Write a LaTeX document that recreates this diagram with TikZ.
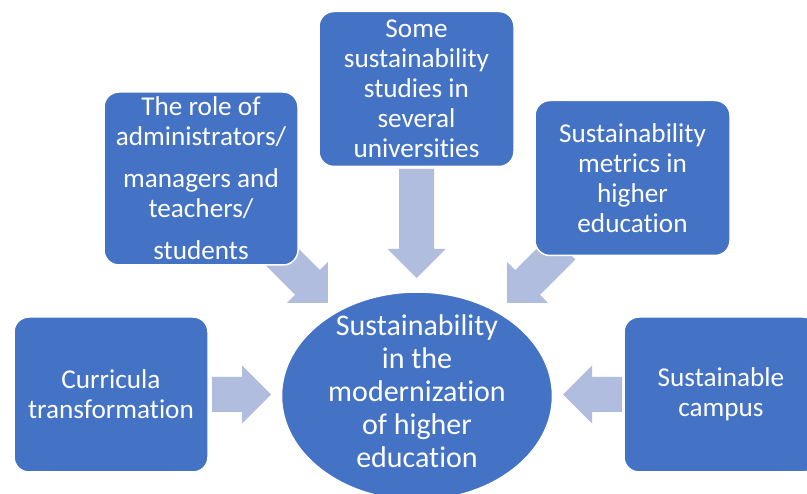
\documentclass[tikz,border=0pt]{standalone}
\usepackage{fontspec}
\setmainfont{Carlito}[Ligatures=NoCommon]
\usetikzlibrary{shapes.geometric}
\definecolor{boxblue}{RGB}{68,114,196}
\definecolor{arrowblue}{RGB}{177,189,222}
\begin{document}
\begin{tikzpicture}[x=1pt,y=-1pt,
  box/.style={draw=white, line width=1.5pt, fill=boxblue, rounded corners=15pt,
    minimum width=195pt, minimum height=155pt, text=white, align=center,
    inner sep=0pt, font=\fontsize{27.2}{30}\selectfont},
  hub/.style={ellipse, draw=white, line width=1.5pt, fill=boxblue,
    minimum width=271pt, minimum height=208pt, inner sep=0pt},
  hubtext/.style={text=white, align=center, inner sep=0pt,
    font=\fontsize{30}{33}\selectfont},
  pics/barrow/.style={code={
    \fill[arrowblue] (0,-17.5) -- (#1,-17.5) -- (#1,-29) -- ({#1+29},0)
      -- (#1,29) -- (#1,17.5) -- (0,17.5) -- cycle;}}]
\useasboundingbox (0,0) rectangle (807,494);
\clip (0,0) rectangle (807,494);
\fill[white] (0,0) rectangle (807,494);
% block arrows
\pic[rotate=-90] at (416.5,169) {barrow=80};
\pic at (212,394.5) {barrow=30};
\pic[rotate=180] at (622,394.5) {barrow=30};
\pic[rotate=-45] at (272.1,247.1) {barrow=50};
\pic[rotate=-135] at (562.9,247.1) {barrow=50};
% boxes
\node[box] (tb) at (416.5,89) {Some\\sustainability\\studies in\\several\\universities};
\node[box, minimum width=194pt, minimum height=173pt] (lu) at (201,178.5)
  {The role of\\administrators/\\[12pt]managers and\\teachers/\\[12pt]students};
\node[box] (ru) at (632.5,178) {Sustainability\\metrics in\\higher\\education};
\node[box, minimum width=194pt] (lb) at (111,394.5) {Curricula\\transformation};
\node[box, minimum width=194pt] (rb) at (721,394.5) {Sustainable\\campus};
% hub
\node[hub] (hub) at (417,396) {};
\node[hubtext, yshift=4.5pt] (hubt) at (hub.center)
  {Sustainability\\in the\\modernization\\of higher\\education};
\end{tikzpicture}
\end{document}
